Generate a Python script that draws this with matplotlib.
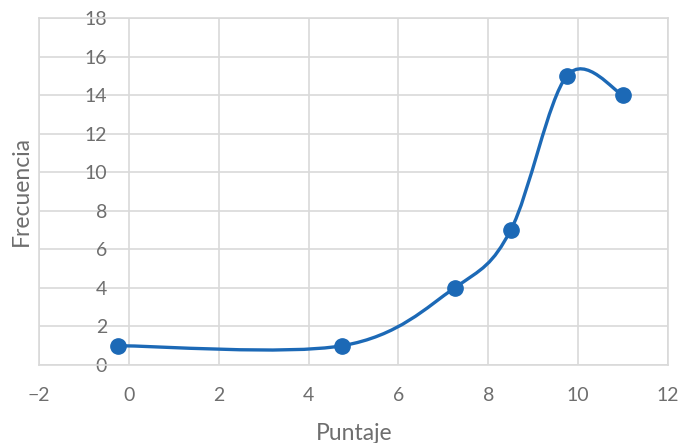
import numpy as np
import matplotlib.pyplot as plt
from matplotlib.path import Path
from matplotlib.patches import PathPatch

# data
puntaje = [-0.25, 4.75, 7.25, 8.5, 9.75, 11.0]
frecuencia = [1, 1, 4, 7, 15, 14]

x_ticks = [-2, 0, 2, 4, 6, 8, 10, 12]
y_ticks = [0, 2, 4, 6, 8, 10, 12, 14, 16, 18]

LINE_COLOR = "#1C69B6"
GRID_COLOR = "#D9D9D9"
TEXT_COLOR = "#6E6E6E"


# =========================
# Excel-like smoothed line (cubic bezier, catmull-rom tangents)
# =========================
def smooth_path(xs, ys):
    pts = np.column_stack([xs, ys]).astype(float)
    n = len(pts)
    verts = [pts[0]]
    codes = [Path.MOVETO]
    for i in range(n - 1):
        p0 = pts[max(i - 1, 0)]
        p1 = pts[i]
        p2 = pts[i + 1]
        p3 = pts[min(i + 2, n - 1)]
        c1 = p1 + (p2 - p0) / 6.0
        c2 = p2 - (p3 - p1) / 6.0
        verts += [c1, c2, p2]
        codes += [Path.CURVE4] * 3
    return Path(verts, codes)


plt.rcParams["font.family"] = ["Lato", "DejaVu Sans"]

W, H = 682, 443
fig = plt.figure(figsize=(W / 100, H / 100), dpi=100)
ax = fig.add_axes([39 / W, 1 - 365 / H, (668 - 39) / W, (365 - 18) / H])

ax.set_xlim(-2, 12)
ax.set_ylim(0, 18)
ax.set_xticks(x_ticks)
ax.set_yticks(y_ticks)
ax.grid(True, color=GRID_COLOR, linewidth=1.2)
ax.set_axisbelow(True)
for side in ax.spines.values():
    side.set_color(GRID_COLOR)
    side.set_linewidth(1.2)
# y labels sit next to the x=0 axis, as in Excel
ax.tick_params(axis="x", length=0, labelsize=14, colors=TEXT_COLOR, pad=16)
ax.tick_params(axis="y", length=0, labelsize=14, colors=TEXT_COLOR, pad=-49)
for lbl in ax.get_yticklabels():
    lbl.set_zorder(0)

patch = PathPatch(smooth_path(puntaje, frecuencia), facecolor="none",
                  edgecolor=LINE_COLOR, linewidth=2.4, capstyle="round")
ax.add_patch(patch)
ax.plot(puntaje, frecuencia, linestyle="none", marker="o", markersize=11,
        color=LINE_COLOR, clip_on=False, zorder=3)

fig.text(354 / W, 1 - 440 / H, "Puntaje", fontsize=16.5, color=TEXT_COLOR,
         ha="center", va="baseline")
fig.text(21 / W, 1 - 191 / H, "Frecuencia", fontsize=16.5, color=TEXT_COLOR,
         ha="center", va="center", rotation=90)

fig.savefig("out.png", dpi=100)
plt.close(fig)
